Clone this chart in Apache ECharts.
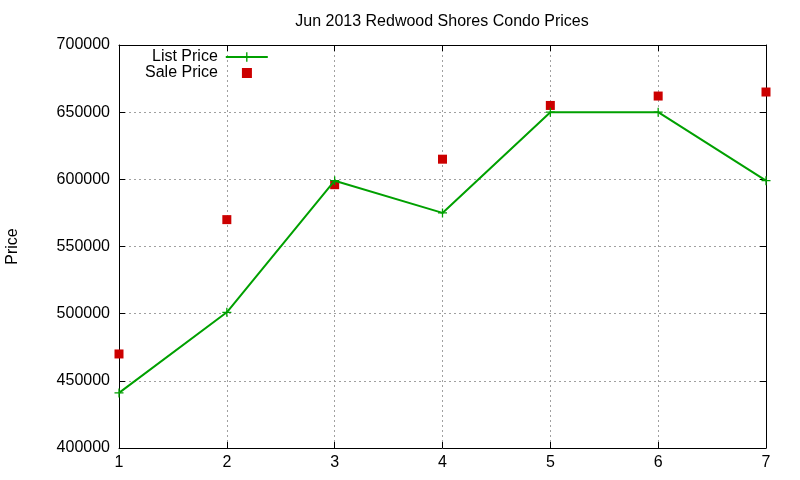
<!DOCTYPE html>
<html>
<head>
<meta charset="utf-8" />
<title>Jun 2013 Redwood Shores Condo Prices</title>
<script src="https://cdn.jsdelivr.net/npm/echarts@6/dist/echarts.min.js"></script>
<style>
  html, body {margin:0; padding:0; background:#fff;}
  #chart {width:800px; height:480px;}
</style>
</head>
<body>
<div id="chart"></div>
<script>
// data
var months = [1, 2, 3, 4, 5, 6, 7];
var listPrice = [441000, 501000, 599000, 575000, 650000, 650000, 599000];
var salePrice = [470000, 570000, 596000, 615000, 655000, 662000, 665000];

var font = 'Liberation Sans, Arial, sans-serif';
var plus = 'path://M4.3,0H5.7V4.3H10V5.7H5.7V10H4.3V5.7H0V4.3H4.3Z';

function pairs(xs, ys) {
  return xs.map(function (x, i) { return [x, ys[i]]; });
}

var axisLine = {show: true, lineStyle: {color: '#000', width: 1}};
var tick = {show: true, inside: true, length: 6, lineStyle: {color: '#000'}};
var grid = {show: true, lineStyle: {color: '#a0a0a0', type: [2, 3], width: 1}};

var chart = echarts.init(document.getElementById('chart'));
chart.setOption({
  animation: false,
  backgroundColor: '#fff',
  title: {
    text: 'Jun 2013 Redwood Shores Condo Prices',
    left: 437, top: 9, textAlign: 'center',
    textStyle: {fontFamily: font, fontSize: 16, fontWeight: 'normal', color: '#000'}
  },
  legend: [{
    data: ['List Price'],
    left: 152, top: 49, align: 'right', padding: 0,
    itemWidth: 42, itemHeight: 12,
    textStyle: {fontFamily: font, fontSize: 16, color: '#000', padding: [0, 3, 0, 0]}
  }, {
    data: ['Sale Price'],
    left: 145, top: 65, align: 'right', padding: 0,
    itemWidth: 10, itemHeight: 10,
    textStyle: {fontFamily: font, fontSize: 16, color: '#000', padding: [0, 19, 0, 0]}
  }],
  grid: {left: 119, right: 34, top: 45, bottom: 32, containLabel: false, outerBoundsMode: 'none'},
  xAxis: [{
    type: 'value', min: 1, max: 7, interval: 1,
    axisLine: axisLine, axisTick: tick, splitLine: grid,
    axisLabel: {fontFamily: font, fontSize: 16, color: '#000', margin: 7}
  }, {
    type: 'value', min: 1, max: 7, interval: 1, position: 'top',
    axisLine: axisLine, axisTick: tick, splitLine: {show: false},
    axisLabel: {show: false}
  }],
  yAxis: [{
    type: 'value', min: 400000, max: 700000, interval: 50000,
    name: 'Price', nameLocation: 'middle', nameGap: 98, nameRotate: 90,
    nameTextStyle: {fontFamily: font, fontSize: 16, color: '#000'},
    axisLine: axisLine, axisTick: tick, splitLine: grid,
    axisLabel: {fontFamily: font, fontSize: 16, color: '#000', margin: 9,
      formatter: function (v) { return String(v); }}
  }, {
    type: 'value', min: 400000, max: 700000, interval: 50000, position: 'right',
    axisLine: axisLine, axisTick: tick, splitLine: {show: false},
    axisLabel: {show: false}
  }],
  series: [{
    name: 'List Price',
    type: 'line',
    data: pairs(months, listPrice),
    symbol: plus, symbolSize: 9,
    lineStyle: {color: '#00a000', width: 2},
    itemStyle: {color: '#00a000'},
    clip: false
  }, {
    name: 'Sale Price',
    type: 'scatter',
    data: pairs(months, salePrice),
    symbol: 'rect', symbolSize: 9,
    itemStyle: {color: '#cc0000', opacity: 1},
    clip: false
  }]
});
</script>
</body>
</html>
